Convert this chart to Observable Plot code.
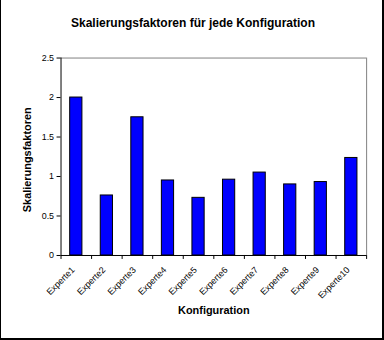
<!DOCTYPE html>
<html>
<head>
<meta charset="utf-8">
<script src="https://cdn.jsdelivr.net/npm/d3@7"></script>
<script src="https://cdn.jsdelivr.net/npm/@observablehq/plot@0.6"></script>
<style>
  html, body { margin: 0; padding: 0; background: #fff; }
  #wrap { position: relative; width: 384px; height: 340px; box-sizing: border-box;
          border-left: 1px solid #000; border-right: 2px solid #000; border-bottom: 2px solid #000;
          font-family: "Liberation Sans", Arial, sans-serif; overflow: hidden; }
  #wrap svg { position: absolute; left: -1px; top: 0; }
  .title { position: absolute; left: 0; width: 384px; top: 16px; text-align: center;
           font-weight: bold; font-size: 12px; color: #000; }
</style>
</head>
<body>
<div id="wrap"><div class="title">Skalierungsfaktoren für jede Konfiguration</div></div>
<script>
const categories = ["Experte1","Experte2","Experte3","Experte4","Experte5","Experte6","Experte7","Experte8","Experte9","Experte10"];
const values = [2.00, 0.76, 1.75, 0.95, 0.73, 0.96, 1.05, 0.90, 0.93, 1.235];
const yTicks = [0, 0.5, 1, 1.5, 2, 2.5];
const yTickLabels = ["0", "0.5", "1", "1.5", "2", "2.5"];

const data = categories.map((c, i) => ({cat: c, i, v: values[i], zero: 0}));
const bounds = d3.range(categories.length + 1);

const chart = Plot.plot({
  width: 384,
  height: 340,
  marginLeft: 61,
  marginRight: 15,
  marginTop: 58,
  marginBottom: 83,
  style: {fontFamily: "Liberation Sans, Arial, sans-serif", background: "transparent"},
  x: {type: "linear", domain: [0, categories.length], axis: null},
  y: {type: "linear", domain: [0, 2.5], axis: null},
  marks: [
    Plot.ruleY([2.5], {stroke: "#808080", strokeWidth: 1}),
    Plot.ruleX([categories.length], {stroke: "#808080", strokeWidth: 1}),
    Plot.rectY(data, {x1: d => d.i + 0.3, x2: d => d.i + 0.7, y: "v", fill: "#0000FF", stroke: "#000", strokeWidth: 1}),
    Plot.ruleY([0], {stroke: "#000"}),
    Plot.ruleX([0], {stroke: "#000"}),
    Plot.axisX(bounds, {tickSize: 4, tickFormat: () => "", stroke: "#000"}),
    Plot.axisY(yTicks, {tickSize: 4, tickPadding: 3, tickFormat: (d, k) => yTickLabels[k], fontSize: 9, fill: "#000", stroke: "#000", label: null}),
    Plot.text(data, {x: d => d.i + 0.5, y: "zero", text: "cat", rotate: -45, textAnchor: "end", dy: 13, dx: -3, fontSize: 9, fill: "#000"}),
    Plot.text(["Konfiguration"], {frameAnchor: "bottom", dy: 59, text: d => d, fontWeight: "bold", fontSize: 11, fill: "#000"}),
    Plot.text(["Skalierungsfaktoren"], {frameAnchor: "left", textAnchor: "middle", dx: -34, dy: 3, rotate: -90, text: d => d, fontWeight: "bold", fontSize: 11, fill: "#000"})
  ]
});
document.getElementById("wrap").appendChild(chart);
</script>
</body>
</html>
